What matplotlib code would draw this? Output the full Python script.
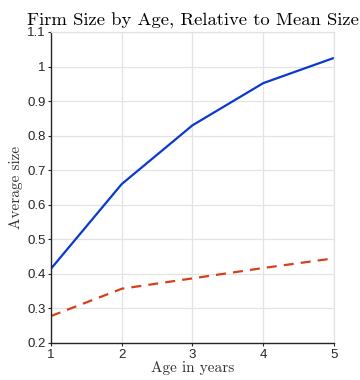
import matplotlib
matplotlib.use("Agg")
import matplotlib.pyplot as plt

age = [1, 2, 3, 4, 5]
size_all = [0.415, 0.660, 0.830, 0.952, 1.025]
size_other = [0.278, 0.357, 0.387, 0.417, 0.445]
yticks = [0.2, 0.3, 0.4, 0.5, 0.6, 0.7, 0.8, 0.9, 1.0, 1.1]
ytick_labels = ["0.2", "0.3", "0.4", "0.5", "0.6", "0.7", "0.8", "0.9", "1", "1.1"]

fig = plt.figure(figsize=(3.6, 3.8), dpi=100)
ax = fig.add_axes([0.1417, 0.0974, 0.786, 0.8184])

ax.plot(age, size_all, color="#0a3acc", lw=1.6, solid_capstyle="butt")
ax.plot(age, size_other, color="#d4401a", lw=1.6, ls=(0, (4.5, 3.2)))

ax.set_xlim(1, 5)
ax.set_ylim(0.2, 1.1)
ax.set_xticks(age)
ax.set_xticklabels([str(a) for a in age])
ax.set_yticks(yticks)
ax.set_yticklabels(ytick_labels)

ax.grid(True, color="#e3e3e3", lw=0.9)
ax.set_axisbelow(True)
for side in ("top", "right"):
    ax.spines[side].set_color("#e3e3e3")
    ax.spines[side].set_linewidth(0.9)
for side in ("left", "bottom"):
    ax.spines[side].set_color("#262626")
    ax.spines[side].set_linewidth(1.0)

ax.tick_params(axis="both", labelsize=9.5, colors="#262626", length=2, width=0.8,
               direction="out", pad=2)
for lab in ax.get_xticklabels() + ax.get_yticklabels():
    lab.set_fontfamily("Liberation Sans")

ax.set_title("Firm Size by Age, Relative to Mean Size", fontfamily="cmr10",
             fontsize=13.4, pad=5, x=0.5)
ax.set_xlabel("Age in years", fontfamily="cmr10", fontsize=11, color="#333333",
              labelpad=0)
ax.set_ylabel("Average size", fontfamily="cmr10", fontsize=11, color="#333333",
              labelpad=3)

fig.savefig("out.png", dpi=100)
